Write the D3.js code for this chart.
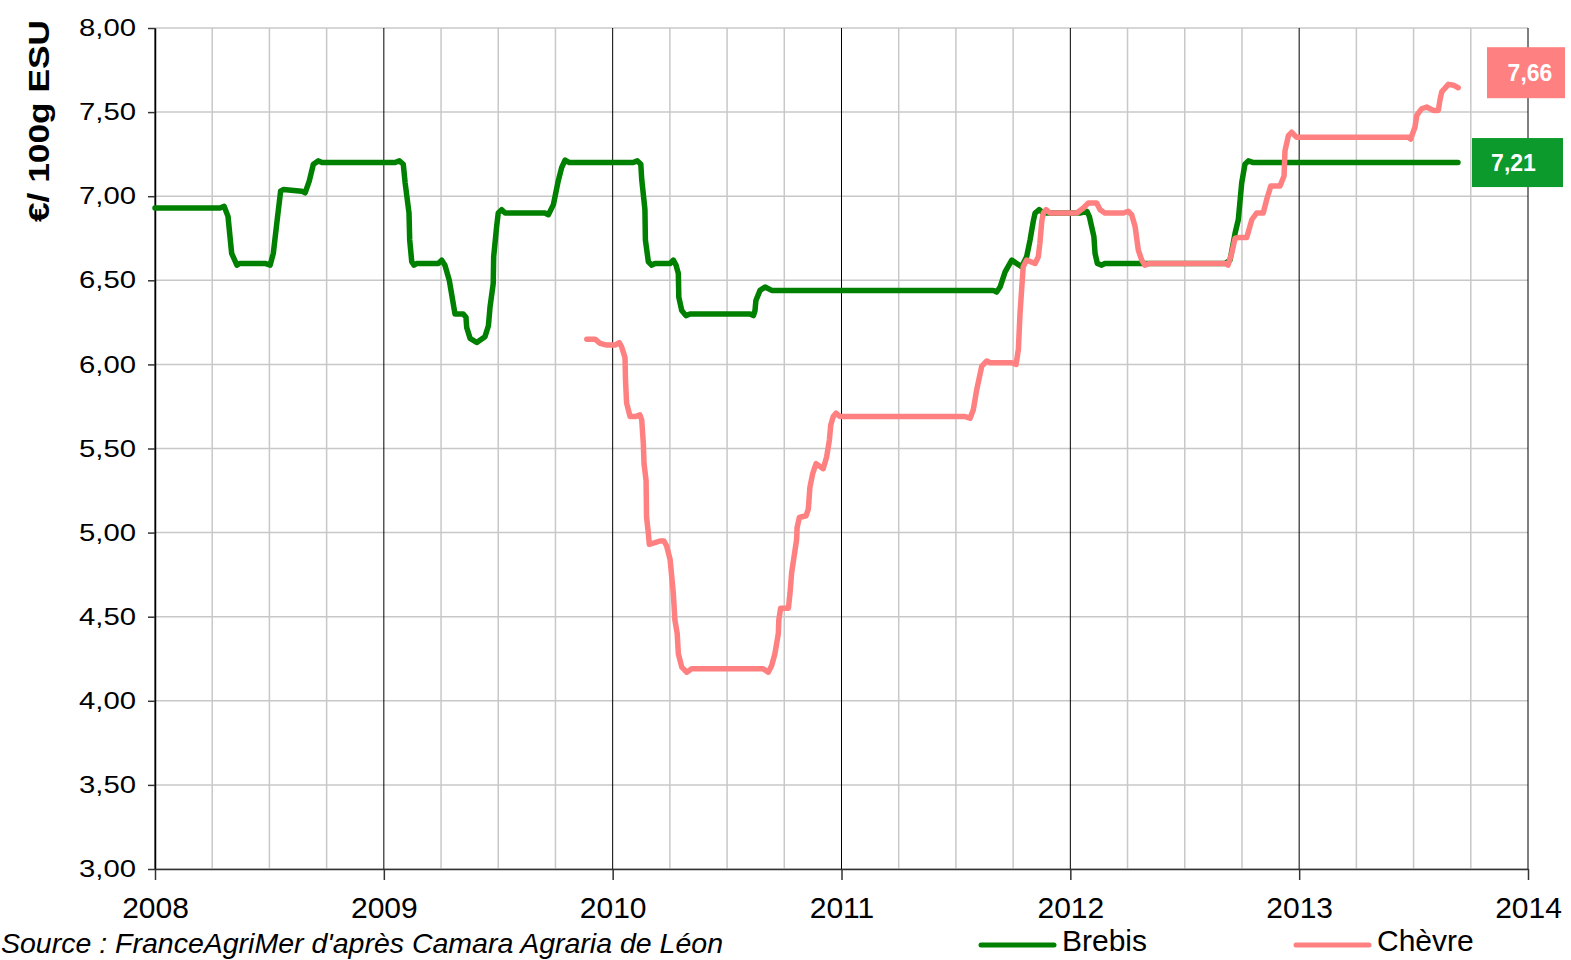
<!DOCTYPE html>
<html>
<head>
<meta charset="utf-8">
<title>Prix Brebis / Chèvre</title>
<script src="https://d3js.org/d3.v7.min.js"></script>
<style>
  body { margin: 0; background: #fff; }
  text { font-family: "Liberation Sans", Arial, sans-serif; }
</style>
</head>
<body>
<script>

// ---- data ----
var years = [2008, 2009, 2010, 2011, 2012, 2013, 2014];
var yTicks = [3, 3.5, 4, 4.5, 5, 5.5, 6, 6.5, 7, 7.5, 8];
var seriesNames = ["Brebis", "Chèvre"];
var endLabels = ["7,21", "7,66"];

var brebisT = [2008.000, 2008.284, 2008.302, 2008.319, 2008.335, 2008.358, 2008.371, 2008.481, 2008.503, 2008.517,
  2008.534, 2008.549, 2008.561, 2008.641, 2008.656, 2008.674, 2008.692, 2008.714, 2008.730, 2009.049,
  2009.068, 2009.085, 2009.093, 2009.110, 2009.113, 2009.122, 2009.132, 2009.145, 2009.238, 2009.253,
  2009.267, 2009.286, 2009.311, 2009.347, 2009.359, 2009.362, 2009.377, 2009.406, 2009.442, 2009.457,
  2009.464, 2009.478, 2009.480, 2009.493, 2009.500, 2009.515, 2009.530, 2009.704, 2009.719, 2009.741,
  2009.762, 2009.777, 2009.792, 2009.811, 2010.090, 2010.108, 2010.123, 2010.127, 2010.141, 2010.143,
  2010.156, 2010.171, 2010.185, 2010.251, 2010.265, 2010.277, 2010.287, 2010.289, 2010.302, 2010.320,
  2010.338, 2010.600, 2010.615, 2010.622, 2010.626, 2010.644, 2010.666, 2010.695, 2011.663, 2011.678,
  2011.693, 2011.715, 2011.744, 2011.787, 2011.809, 2011.824, 2011.838, 2011.846, 2011.864, 2011.881,
  2012.042, 2012.072, 2012.083, 2012.103, 2012.108, 2012.118, 2012.137, 2012.151, 2012.676, 2012.698,
  2012.720, 2012.734, 2012.749, 2012.763, 2012.778, 2012.800, 2013.694];
var brebisV = [6.93, 6.93, 6.94, 6.88, 6.66, 6.59, 6.60, 6.60, 6.59, 6.66,
  6.86, 7.03, 7.04, 7.03, 7.02, 7.09, 7.19, 7.21, 7.20, 7.20,
  7.21, 7.19, 7.08, 6.90, 6.74, 6.61, 6.59, 6.60, 6.60, 6.62,
  6.59, 6.50, 6.30, 6.30, 6.28, 6.22, 6.155, 6.13, 6.165, 6.23,
  6.34, 6.48, 6.64, 6.82, 6.90, 6.92, 6.90, 6.90, 6.89, 6.95,
  7.09, 7.17, 7.215, 7.20, 7.20, 7.21, 7.19, 7.10, 6.92, 6.74,
  6.61, 6.59, 6.60, 6.60, 6.62, 6.59, 6.54, 6.40, 6.32, 6.29,
  6.30, 6.30, 6.29, 6.32, 6.38, 6.44, 6.46, 6.44, 6.44, 6.43,
  6.46, 6.55, 6.62, 6.58, 6.64, 6.74, 6.85, 6.90, 6.92, 6.90,
  6.90, 6.91, 6.88, 6.76, 6.66, 6.60, 6.59, 6.60, 6.60, 6.62,
  6.78, 6.86, 7.08, 7.19, 7.21, 7.20, 7.20];

var chevreT = [2009.887, 2009.923, 2009.945, 2009.974, 2010.010, 2010.029, 2010.039, 2010.054, 2010.056, 2010.061,
  2010.076, 2010.098, 2010.119, 2010.127, 2010.134, 2010.137, 2010.146, 2010.148, 2010.156, 2010.160,
  2010.185, 2010.207, 2010.224, 2010.236, 2010.251, 2010.265, 2010.272, 2010.282, 2010.287, 2010.302,
  2010.324, 2010.345, 2010.658, 2010.680, 2010.695, 2010.709, 2010.724, 2010.726, 2010.734, 2010.768,
  2010.775, 2010.782, 2010.804, 2010.806, 2010.816, 2010.845, 2010.855, 2010.862, 2010.874, 2010.889,
  2010.920, 2010.935, 2010.947, 2010.953, 2010.964, 2010.976, 2010.993, 2011.540, 2011.562, 2011.576,
  2011.591, 2011.613, 2011.635, 2011.649, 2011.744, 2011.763, 2011.773, 2011.780, 2011.787, 2011.794,
  2011.809, 2011.846, 2011.860, 2011.867, 2011.875, 2011.882, 2011.894, 2011.911, 2012.028, 2012.057,
  2012.079, 2012.115, 2012.130, 2012.151, 2012.232, 2012.253, 2012.268, 2012.283, 2012.297, 2012.312,
  2012.326, 2012.344, 2012.676, 2012.689, 2012.705, 2012.720, 2012.742, 2012.771, 2012.793, 2012.814,
  2012.843, 2012.858, 2012.876, 2012.916, 2012.934, 2012.938, 2012.953, 2012.967, 2012.989, 2013.477,
  2013.487, 2013.506, 2013.514, 2013.535, 2013.557, 2013.586, 2013.608, 2013.615, 2013.623, 2013.652,
  2013.674, 2013.695];
var chevreV = [6.15, 6.15, 6.125, 6.115, 6.115, 6.13, 6.105, 6.04, 5.91, 5.77,
  5.69, 5.69, 5.70, 5.67, 5.53, 5.41, 5.31, 5.095, 4.995, 4.93,
  4.94, 4.95, 4.95, 4.92, 4.84, 4.64, 4.48, 4.40, 4.28, 4.20,
  4.17, 4.19, 4.19, 4.17, 4.21, 4.28, 4.40, 4.48, 4.55, 4.55,
  4.64, 4.76, 4.96, 5.03, 5.09, 5.10, 5.14, 5.27, 5.35, 5.41,
  5.38, 5.45, 5.55, 5.64, 5.69, 5.71, 5.69, 5.69, 5.68, 5.73,
  5.85, 5.99, 6.02, 6.01, 6.01, 6.00, 6.09, 6.30, 6.44, 6.58,
  6.62, 6.60, 6.64, 6.72, 6.85, 6.90, 6.92, 6.90, 6.90, 6.93,
  6.96, 6.96, 6.92, 6.90, 6.90, 6.91, 6.89, 6.82, 6.68, 6.62,
  6.59, 6.60, 6.60, 6.59, 6.66, 6.75, 6.755, 6.755, 6.86, 6.90,
  6.90, 6.98, 7.06, 7.06, 7.12, 7.27, 7.36, 7.38, 7.35, 7.35,
  7.34, 7.41, 7.48, 7.52, 7.53, 7.51, 7.51, 7.57, 7.62, 7.665,
  7.66, 7.645];

var lineColors = ["#008000", "#ff8080"];
var boxColors = ["#0b9a2b", "#ff8080"];

// ---- layout ----
var margin = { top: 28, right: 43, bottom: 91, left: 155 },
    width = 1571 - margin.left - margin.right,
    height = 960 - margin.top - margin.bottom;

var x = d3.scaleLinear().domain([2008, 2014]).range([0, width]);
var y = d3.scaleLinear().domain([3, 8]).range([height, 0]);

var frLocale = d3.formatLocale({ decimal: ",", thousands: " ", grouping: [3], currency: ["", " €"] });
var fmt = frLocale.format(".2f");

var svg = d3.select("body").append("svg")
    .attr("width", 1571)
    .attr("height", 960);

var g = svg.append("g")
    .attr("transform", "translate(" + margin.left + "," + margin.top + ")");

// horizontal grid
g.append("g").selectAll("line")
    .data(yTicks)
    .enter().append("line")
    .attr("x1", 0).attr("x2", width)
    .attr("y1", d => y(d)).attr("y2", d => y(d))
    .attr("stroke", "#c8c8c8")
    .attr("stroke-width", 1.5);

// vertical grid: quarters grey, years black
var quarters = d3.range(0, 25).map(i => 2008 + i * 0.25);
g.append("g").selectAll("line")
    .data(quarters)
    .enter().append("line")
    .attr("x1", d => x(d)).attr("x2", d => x(d))
    .attr("y1", 0).attr("y2", height)
    .attr("stroke", d => (d % 1 === 0) ? "#000" : "#c8c8c8")
    .attr("stroke-width", d => (d % 1 === 0) ? 1 : 1.5);

// axes
var yAxis = d3.axisLeft(y)
    .tickValues(yTicks)
    .tickFormat(fmt)
    .tickSize(7)
    .tickSizeOuter(0)
    .tickPadding(12);

var xAxis = d3.axisBottom(x)
    .tickValues(years)
    .tickFormat(d3.format("d"))
    .tickSize(11)
    .tickSizeOuter(0)
    .tickPadding(17);

var gy = g.append("g").call(yAxis);
gy.select(".domain").attr("stroke", "#000").attr("stroke-width", 1.5);
gy.selectAll(".tick line").attr("stroke", "#333").attr("stroke-width", 1.5);
gy.selectAll("text")
    .attr("font-size", 24)
    .attr("fill", "#000")
    .attr("textLength", 57)
    .attr("lengthAdjust", "spacingAndGlyphs")
    .style("font-family", '"Liberation Sans", Arial, sans-serif');

var gx = g.append("g")
    .attr("transform", "translate(0," + height + ")")
    .call(xAxis);
gx.select(".domain").attr("stroke", "#333").attr("stroke-width", 1.5);
gx.selectAll(".tick line").attr("stroke", "#333").attr("stroke-width", 1.5);
gx.selectAll("text")
    .attr("font-size", 30)
    .attr("fill", "#000")
    .style("font-family", '"Liberation Sans", Arial, sans-serif');

// lines
var line = d3.line()
    .x(d => x(d[0]))
    .y(d => y(d[1]));

var series = [
    d3.zip(brebisT, brebisV),
    d3.zip(chevreT, chevreV)
];

g.selectAll(".serie")
    .data(series)
    .enter().append("path")
    .attr("class", "serie")
    .attr("d", line)
    .attr("fill", "none")
    .attr("stroke", (d, i) => lineColors[i])
    .attr("stroke-width", 5.5)
    .attr("stroke-linejoin", "round")
    .attr("stroke-linecap", "round");

// end value boxes
var boxW = [91, 78], boxH = [49, 51], boxX = [1472, 1487], boxShift = [0, -15];
series.forEach(function (s, i) {
    var last = s[s.length - 1];
    var cy = margin.top + y(last[1]) + boxShift[i];
    var bx = boxX[i];
    svg.append("rect")
        .attr("x", bx).attr("y", cy - boxH[i] / 2)
        .attr("width", boxW[i]).attr("height", boxH[i])
        .attr("fill", boxColors[i]);
    svg.append("text")
        .attr("x", bx + boxW[i] / 2 - 4 + i * 8)
        .attr("y", cy + 8)
        .attr("text-anchor", "middle")
        .attr("font-size", 23)
        .attr("font-weight", "bold")
        .attr("fill", "#fff")
        .text(endLabels[i]);
});

// y title
svg.append("text")
    .attr("transform", "translate(49,121) rotate(-90)")
    .attr("text-anchor", "middle")
    .attr("font-size", 29)
    .attr("font-weight", "bold")
    .attr("textLength", 202)
    .attr("lengthAdjust", "spacingAndGlyphs")
    .text("€/ 100g ESU");

// source
svg.append("text")
    .attr("x", 1)
    .attr("y", 953)
    .attr("font-size", 28.5)
    .attr("font-style", "italic")
    .text("Source : FranceAgriMer d'après Camara Agraria de Léon");

// legend
var legX = [981, 1296];
var leg = svg.selectAll(".leg")
    .data(seriesNames)
    .enter().append("g")
    .attr("class", "leg")
    .attr("transform", (d, i) => "translate(" + legX[i] + ",945)");
leg.append("line")
    .attr("x1", 0).attr("x2", 73)
    .attr("stroke", (d, i) => lineColors[i])
    .attr("stroke-width", 5)
    .attr("stroke-linecap", "round");
leg.append("text")
    .attr("x", 81)
    .attr("y", 6)
    .attr("font-size", 30)
    .text(d => d);

</script>
</body>
</html>
